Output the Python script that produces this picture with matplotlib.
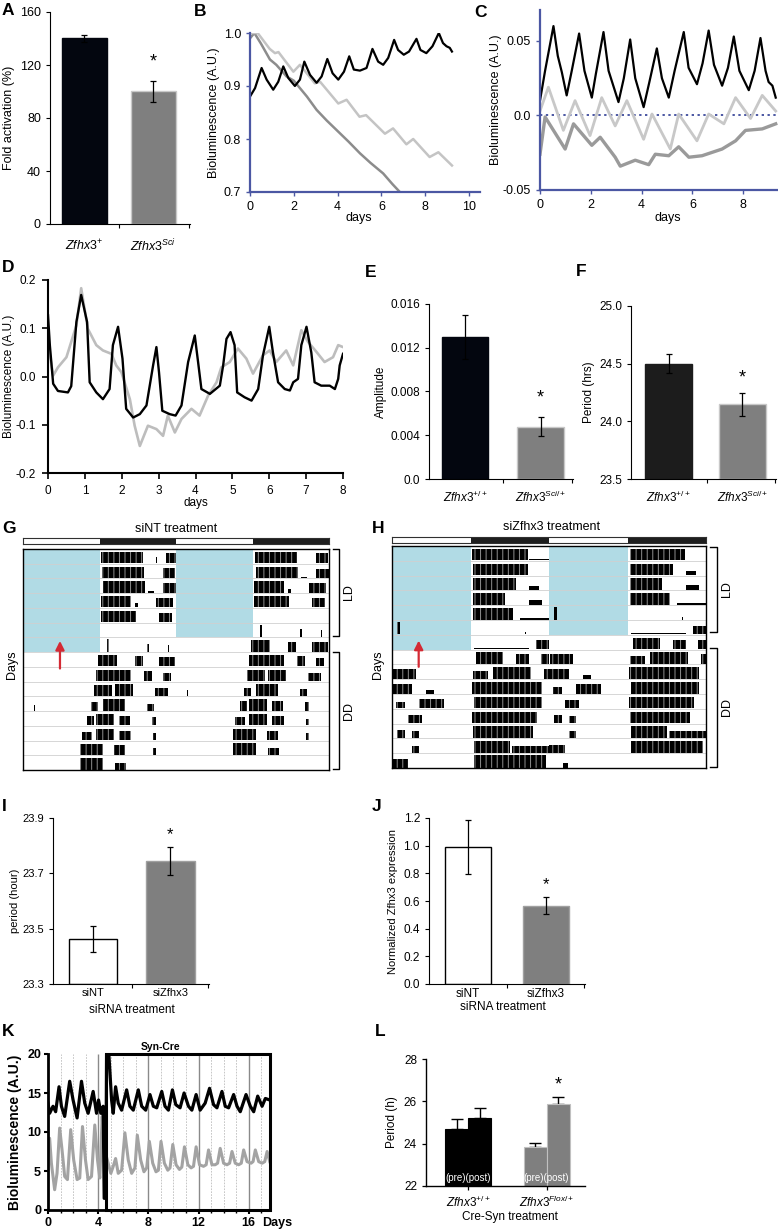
import matplotlib.pyplot as plt
import numpy as np

plt.rcParams['font.family'] = ['Liberation Sans', 'DejaVu Sans']
plt.rcParams['mathtext.fontset'] = 'custom'
plt.rcParams['mathtext.rm'] = 'Liberation Sans'
plt.rcParams['mathtext.it'] = 'Liberation Sans:italic'
plt.rcParams['mathtext.bf'] = 'Liberation Sans:bold'
plt.rcParams['font.size'] = 8.5
plt.rcParams['axes.linewidth'] = 0.8
plt.rcParams['hatch.linewidth'] = 0.7

# ---------------- data ----------------
# A
a_labels = [r'$\mathit{Zfhx3}^{+}$', r'$\mathit{Zfhx3}^{Sci}$']
a_vals = [140, 100]
a_err = [3, 8]

# B (days, bioluminescence)
b_x_black = [0.0, 0.23, 0.53, 0.76, 1.06, 1.29, 1.52, 1.75, 2.05, 2.28, 2.48, 2.74, 3.04, 3.27, 3.53,
             3.77, 4.03, 4.29, 4.53, 4.74, 5.02, 5.32, 5.59, 5.85, 6.08, 6.31, 6.58, 6.76, 7.02, 7.26,
             7.60, 7.78, 8.05, 8.33, 8.62, 8.81, 8.97, 9.12, 9.22]
b_black = [0.880, 0.896, 0.934, 0.912, 0.893, 0.908, 0.937, 0.915, 0.900, 0.912, 0.946, 0.921, 0.906,
           0.918, 0.951, 0.924, 0.912, 0.927, 0.956, 0.931, 0.929, 0.934, 0.970, 0.946, 0.940, 0.953,
           0.987, 0.968, 0.959, 0.965, 0.989, 0.968, 0.962, 0.975, 1.000, 0.981, 0.975, 0.972, 0.965]
b_x_light = [0, 0.35, 0.9, 1.14, 1.3, 1.98, 2.28, 2.96, 3.2, 4.03, 4.41, 5.0, 5.3, 6.16, 6.53, 7.14,
             7.45, 8.2, 8.6, 9.22]
b_light = [1.0, 1.0, 0.97, 0.962, 0.964, 0.927, 0.94, 0.905, 0.908, 0.867, 0.874, 0.842, 0.845, 0.81,
           0.82, 0.79, 0.80, 0.766, 0.775, 0.75]
b_x_dark = [0, 0.2, 0.5, 0.91, 1.2, 1.67, 2.0, 2.28, 2.6, 3.04, 3.5, 3.95, 4.5, 5.02, 5.5, 6.08, 6.5, 6.84]
b_dark = [0.99, 1.0, 0.98, 0.95, 0.94, 0.918, 0.91, 0.896, 0.88, 0.855, 0.835, 0.817, 0.795, 0.773,
          0.755, 0.735, 0.715, 0.70]

# C
c_x_black = [0, 0.2, 0.53, 0.7, 0.86, 1.05, 1.25, 1.54, 1.75, 2.04, 2.2, 2.5, 2.7, 3.09, 3.3, 3.55, 3.75,
             4.08, 4.3, 4.6, 4.8, 5.07, 5.3, 5.66, 5.85, 6.18, 6.4, 6.64, 6.85, 7.17, 7.4, 7.63, 7.85,
             8.22, 8.45, 8.68, 8.88, 9.0, 9.15, 9.28]
c_black = [0.010, 0.030, 0.060, 0.040, 0.029, 0.0135, 0.030, 0.055, 0.030, 0.012, 0.028, 0.056, 0.030,
           0.009, 0.025, 0.051, 0.025, 0.0056, 0.022, 0.045, 0.025, 0.012, 0.030, 0.056, 0.032, 0.021,
           0.035, 0.057, 0.034, 0.020, 0.032, 0.053, 0.030, 0.017, 0.030, 0.052, 0.030, 0.0225, 0.020,
           0.012]
c_x_light = [0, 0.33, 0.92, 1.38, 1.97, 2.43, 2.96, 3.42, 4.08, 4.41, 5.13, 5.46, 6.18, 6.64, 7.24, 7.7,
             8.29, 8.75, 9.28]
c_light = [0.003, 0.019, -0.010, 0.010, -0.0135, 0.012, -0.007, 0.010, -0.016, 0.001, -0.0225, 0.001,
           -0.017, 0.001, -0.0056, 0.012, -0.002, 0.0135, 0.003]
c_x_dark = [0, 0.2, 0.99, 1.32, 2.04, 2.37, 2.96, 3.16, 3.75, 4.28, 4.54, 5.07, 5.46, 5.86, 6.38, 7.17,
            7.7, 8.09, 8.75, 9.28]
c_dark = [-0.026, -0.001, -0.0225, -0.0056, -0.020, -0.0146, -0.028, -0.034, -0.030, -0.033, -0.026,
          -0.027, -0.021, -0.028, -0.027, -0.0225, -0.017, -0.010, -0.009, -0.0056]

# D
d_x_black = [0, 0.05, 0.14, 0.27, 0.54, 0.63, 0.77, 0.90, 1.06, 1.13, 1.31, 1.49, 1.67, 1.76, 1.90,
             2.02, 2.12, 2.31, 2.49, 2.67, 2.85, 2.94, 3.01, 3.10, 3.30, 3.46, 3.62, 3.80, 3.98, 4.07,
             4.16, 4.39, 4.66, 4.75, 4.84, 4.95, 5.06, 5.13, 5.33, 5.52, 5.70, 5.83, 6.00, 6.10, 6.24,
             6.42, 6.56, 6.65, 6.78, 6.87, 7.01, 7.14, 7.23, 7.41, 7.64, 7.78, 7.87, 7.91, 8.0]
d_black = [0.127, 0.065, -0.015, -0.030, -0.033, -0.020, 0.113, 0.169, 0.113, -0.012, -0.033, -0.047,
           -0.026, 0.065, 0.103, 0.037, -0.067, -0.085, -0.078, -0.060, 0.023, 0.061, 0.009, -0.071,
           -0.078, -0.081, -0.060, 0.030, 0.085, 0.030, -0.026, -0.036, -0.019, 0.023, 0.078, 0.092,
           0.065, -0.033, -0.043, -0.050, -0.026, 0.044, 0.103, 0.050, -0.012, -0.026, -0.029, -0.012,
           -0.005, 0.065, 0.103, 0.050, -0.012, -0.019, -0.019, -0.026, -0.005, 0.023, 0.047]
d_x_gray = [0, 0.14, 0.27, 0.5, 0.77, 0.9, 1.08, 1.31, 1.49, 1.72, 1.85, 1.99, 2.22, 2.35, 2.49, 2.71,
            2.94, 3.12, 3.25, 3.44, 3.62, 3.89, 4.11, 4.34, 4.57, 4.7, 4.93, 5.15, 5.38, 5.56, 5.83,
            6.01, 6.19, 6.46, 6.65, 6.87, 7.05, 7.28, 7.5, 7.73, 7.87, 8.0]
d_gray = [0.068, 0.002, 0.019, 0.040, 0.106, 0.183, 0.099, 0.065, 0.054, 0.047, 0.023, 0.009, -0.047,
          -0.102, -0.144, -0.102, -0.109, -0.123, -0.081, -0.116, -0.088, -0.067, -0.081, -0.040,
          -0.012, 0.019, 0.030, 0.058, 0.037, 0.006, 0.044, 0.054, 0.030, 0.054, 0.023, 0.096, 0.072,
          0.051, 0.030, 0.040, 0.065, 0.061]

# E, F
ef_labels = [r'$\mathit{Zfhx3}^{+/+}$', r'$\mathit{Zfhx3}^{Sci/+}$']
e_vals = [0.0130, 0.0048]
e_err = [0.0020, 0.0009]
f_vals = [24.50, 24.15]
f_err = [0.08, 0.10]

# G, H actograms: activity bouts per day (start h, end h, relative height)
g_days = [
    [(12.3, 18.8, .85), (20.8, 21.0, .5), (22.5, 24.0, .75)],
    [(12.4, 19.0, .85), (22.0, 23.8, .75)],
    [(12.6, 19.1, .85), (19.6, 20.5, .1), (22.0, 24.0, .7)],
    [(12.3, 17.0, .85), (17.5, 18.0, .3), (20.9, 23.5, .7)],
    [(12.3, 17.8, .85), (21.4, 23.3, .7)],
    [],
    [(13.2, 13.5, .9), (19.5, 19.7, .6), (22.7, 22.9, .5)],
    [(11.8, 14.7, .85), (17.6, 18.9, .75), (21.3, 23.9, .7)],
    [(11.5, 17.0, .85), (19.0, 20.2, .75), (22.0, 23.2, .6)],
    [(11.2, 14.0, .8), (14.4, 17.3, .85), (20.7, 22.8, .6)],
    [(1.7, 1.9, .4), (10.6, 11.7, .6), (12.5, 16.0, .85), (19.4, 20.6, .5)],
    [(10.0, 11.2, .7), (11.5, 14.3, .85), (15.0, 16.8, .7), (20.3, 20.8, .6)],
    [(9.3, 10.8, .6), (11.4, 14.3, .85), (15.0, 17.0, .7), (20.4, 20.8, .5)],
    [(8.9, 12.5, .8), (14.3, 16.0, .7), (20.4, 20.9, .5)],
    [(8.9, 12.5, .85), (14.5, 16.2, .5)],
    [],
]
h_days = [
    [(12.3, 20.8, .85), (21.0, 24.0, .08)],
    [(12.4, 20.8, .85)],
    [(12.4, 19.0, .85), (21.0, 22.5, .3)],
    [(12.4, 17.2, .85), (21.0, 22.9, .35)],
    [(12.4, 18.5, .85), (19.5, 24.0, .15)],
    [(0.8, 1.2, .9), (20.3, 20.5, .2)],
    [(12.5, 21.0, .08), (22.0, 24.0, .65)],
    [(12.9, 16.9, .85), (19.0, 21.0, .7), (22.8, 24.0, .7)],
    [(0.1, 3.6, .7), (12.4, 14.7, .6), (15.4, 21.3, .85), (23.3, 24.0, .7)],
    [(0.0, 3.0, .7), (5.2, 6.4, .25), (12.2, 22.9, .85)],
    [(0.6, 2.0, .5), (4.2, 8.0, .7), (12.5, 23.0, .85)],
    [(2.4, 4.6, .6), (12.2, 22.1, .85)],
    [(0.7, 2.0, .6), (3.1, 4.2, .5), (12.4, 21.5, .85)],
    [(3.1, 4.2, .5), (12.5, 18.0, .85), (18.4, 24.0, .5)],
    [(0.0, 2.4, .6), (12.6, 23.6, .9)],
    [(2.1, 2.9, .3)],
]
n_rows = 15
ld_dark = [(12, 12), (36, 12)]
blue_left_rows = 7
blue_right_rows = 6

# I, J
ij_labels = ['siNT', 'siZfhx3']
i_vals = [23.463, 23.745]
i_err = [0.047, 0.050]
j_vals = [0.99, 0.567]
j_err = [0.195, 0.063]

# K
k_x_black = [0, 0.13, 0.4, 0.61, 0.88, 1.07, 1.33, 1.73, 2.0, 2.32, 2.67, 2.93, 3.2, 3.6, 3.87, 4.03,
             4.21, 4.4, 4.48, 4.61, 4.67, 4.85, 5.07, 5.2, 5.39, 5.6, 5.87, 6.27, 6.53, 6.8, 7.2, 7.47,
             7.79, 8.13, 8.4, 8.67, 9.07, 9.33, 9.6, 9.92, 10.19, 10.53, 10.85, 11.2, 11.47, 11.81,
             12.13, 12.53, 12.88, 13.2, 13.47, 13.87, 14.13, 14.4, 14.8, 15.07, 15.33, 15.79, 16.13,
             16.4, 16.72, 17.07, 17.33, 17.68]
k_black = [13.7, 12.4, 13.3, 12.6, 15.8, 13.3, 12.0, 16.5, 14.1, 11.8, 16.5, 13.7, 12.4, 15.2, 12.4,
           14.1, 12.4, 13.3, 1.5, 1.5, 20, 20, 14.1, 12.4, 15.8, 13.7, 12.8, 15.4, 13.3, 12.8, 15.4,
           13.3, 12.8, 14.8, 13.3, 13.1, 15.2, 13.3, 12.8, 15.4, 13.5, 13.1, 15.0, 13.3, 12.8, 14.8,
           12.8, 13.7, 15.6, 13.5, 13.1, 15.2, 13.3, 13.1, 14.8, 13.3, 12.6, 14.8, 13.3, 12.6, 14.6,
           13.3, 14.3, 14.1]
k_x_gray = [0, 0.13, 0.27, 0.53, 0.72, 0.93, 1.12, 1.33, 1.55, 1.81, 2.05, 2.32, 2.53, 2.75, 2.99, 3.2,
            3.47, 3.73, 3.95, 4.13, 4.32, 4.45, 5.01, 5.2, 5.39, 5.6, 5.87, 6.13, 6.4, 6.67, 6.93, 7.12,
            7.39, 7.65, 7.87, 8.08, 8.35, 8.61, 8.8, 9.01, 9.28, 9.55, 9.73, 9.95, 10.21, 10.48, 10.67,
            10.88, 11.15, 11.41, 11.6, 11.81, 12.08, 12.4, 12.61, 12.8, 13.07, 13.33, 13.52, 13.73,
            14.0, 14.27, 14.48, 14.67, 14.93, 15.2, 15.41, 15.6, 15.87, 16.19, 16.35, 16.53, 16.8,
            17.07, 17.28, 17.47, 17.68]
k_gray = [9.0, 9.2, 6.0, 2.6, 4.7, 10.5, 7.7, 4.3, 3.9, 10.3, 6.4, 3.9, 4.1, 10.7, 6.4, 3.9, 4.3, 10.9,
          6.4, 4.1, 12.0, 8.1, 4.7, 5.6, 6.6, 4.7, 5.1, 9.9, 6.4, 4.7, 5.4, 9.6, 6.4, 4.9, 5.4, 8.8,
          6.0, 4.9, 5.1, 8.8, 6.0, 5.1, 5.4, 8.4, 5.8, 5.2, 5.5, 8.1, 5.8, 5.4, 5.6, 8.1, 5.8, 5.6, 5.8,
          7.7, 5.8, 5.8, 6.0, 7.9, 6.0, 5.8, 6.0, 7.5, 6.0, 5.8, 6.0, 7.7, 6.2, 6.0, 6.2, 7.7, 6.2,
          6.0, 6.2, 7.5, 6.2]
k_syn_start = 4.6
k_xmax = 17.7

# L
l_labels = [r'$\mathit{Zfhx3}^{+/+}$', r'$\mathit{Zfhx3}^{Flox/+}$']
l_pre = [24.67, 23.85]
l_post = [25.19, 25.87]
l_pre_err = [0.51, 0.17]
l_post_err = [0.51, 0.33]

# ---------------- helpers ----------------
W, H = 778, 1230
fig = plt.figure(figsize=(W / 100, H / 100), dpi=100)
BLUE = '#4b57a3'


def px_axes(l, t, r, b):
    ax = fig.add_axes([l / W, 1 - b / H, (r - l) / W, (b - t) / H])
    ax.set_facecolor('none')
    ax.px = (l, t, r, b)
    return ax


def ylab(ax, text, x_right, **kw):
    l, t, r, b = ax.px
    ax.set_ylabel(text, **kw)
    ax.yaxis.set_label_coords((x_right - l) / (r - l), 0.5)


def xlab(ax, text, x_center, y_top, **kw):
    l, t, r, b = ax.px
    ax.set_xlabel(text, **kw)
    ax.xaxis.set_label_coords((x_center - l) / (r - l), (b - y_top) / (b - t))


def clean(ax, lw=0.8, color='k'):
    for s in ['top', 'right']:
        ax.spines[s].set_visible(False)
    for s in ['left', 'bottom']:
        ax.spines[s].set_linewidth(lw)
        ax.spines[s].set_color(color)


def bar_panel(ax, vals, errs, colors, edges, ylim, yticks, ytl, xlim, width, seps, labels, pad, fs=8.5):
    x = np.arange(len(vals))
    ax.bar(x, np.array(vals) - ylim[0], bottom=ylim[0], width=width, color=colors,
           edgecolor=edges, linewidth=1, zorder=2)
    ax.errorbar(x, vals, yerr=errs, fmt='none', ecolor='k', elinewidth=0.9, capsize=2,
                capthick=0.9, zorder=3)
    ax.set_xlim(xlim)
    ax.set_ylim(ylim)
    ax.set_yticks(yticks)
    ax.set_yticklabels(ytl, fontsize=fs)
    ax.set_xticks(seps)
    ax.set_xticklabels([])
    ax.set_xticks(x, minor=True)
    ax.set_xticklabels(labels, minor=True, fontsize=fs)
    ax.tick_params(axis='x', which='minor', length=0, pad=pad)
    ax.tick_params(axis='both', which='major', length=3, width=0.8)
    clean(ax)
    return x


def actogram(ax, days, ld_ax):
    ax.set_xlim(0, 48)
    ax.set_ylim(n_rows, 0)
    ax.bar([0], [blue_left_rows], width=12, bottom=0, align='edge', color='#b1dbe5', zorder=1)
    ax.bar([24], [blue_right_rows], width=12, bottom=0, align='edge', color='#b1dbe5', zorder=1)
    ax.hlines(np.arange(1, n_rows), 0, 48, color='#d0d0d0', lw=0.6, zorder=1)
    for r in range(n_rows):
        for off, d in ((0, r), (24, r + 1)):
            if d >= len(days):
                continue
            for s, e, h in days[d]:
                # vertical hatch mimics the comb of individual activity counts
                ax.bar(off + s, -h * 0.92, width=e - s, bottom=r + 0.97, align='edge',
                       color='k', edgecolor='#8f8f8f', hatch='|||' if h >= 0.5 else None,
                       linewidth=0, zorder=2)
    ax.set_xticks([])
    ax.set_yticks([])
    for s in ax.spines.values():
        s.set_linewidth(1.0)
    ld_ax.set_xlim(0, 48)
    ld_ax.set_ylim(0, 1)
    ld_ax.broken_barh(ld_dark, (0, 1), facecolors='#1e1e1e')
    ld_ax.set_xticks([])
    ld_ax.set_yticks([])
    for s in ld_ax.spines.values():
        s.set_linewidth(0.8)
        s.set_color('#303030')


# ---------------- A ----------------
ax = px_axes(50, 12, 190, 224)
bar_panel(ax, a_vals, a_err, ['#03060f', '#7f7f7f'], ['#03060f', '#c8c8c8'], (0, 160),
          [0, 40, 80, 120, 160], ['0', '40', '80', '120', '160'], (-0.5, 1.53), 0.65,
          [0.5, 1.52], a_labels, 10, fs=9)
ax.text(1, 122, '*', ha='center', va='center', fontsize=13)
ylab(ax, 'Fold activation (%)', 15, fontsize=9)

# ---------------- B ----------------
ax = px_axes(250, 33, 480, 192)
ax.plot(b_x_dark, b_dark, color='#8c8c8c', lw=1.8)
ax.plot(b_x_light, b_light, color='#c4c4c4', lw=1.8)
ax.plot(b_x_black, b_black, color='k', lw=1.6)
ax.set_xlim(0, 10.5)
ax.set_ylim(0.7, 1.0)
ax.set_xticks([0, 2, 4, 6, 8, 10])
ax.set_yticks([0.7, 0.8, 0.9, 1.0])
ax.set_yticklabels(['0.7', '0.8', '0.9', '1.0'])
clean(ax, 1.6, BLUE)
ax.tick_params(colors=BLUE, labelcolor='k', labelsize=9, length=3, width=1)
ylab(ax, 'Bioluminescence (A.U.)', 220, fontsize=9)
xlab(ax, 'days', 359, 212, fontsize=9)

# ---------------- C ----------------
ax = px_axes(540, 10, 778, 190)
ax.axhline(0, color=BLUE, ls=(0, (1.2, 1.8)), lw=1.4, zorder=1)
ax.plot(c_x_dark, c_dark, color='#9a9a9a', lw=2.4)
ax.plot(c_x_light, c_light, color='#c8c8c8', lw=2.0)
ax.plot(c_x_black, c_black, color='k', lw=1.6)
ax.set_xlim(0, 9.37)
ax.set_ylim(-0.05, 0.0708)
ax.set_xticks([0, 2, 4, 6, 8])
ax.set_yticks([-0.05, 0.0, 0.05])
ax.set_yticklabels(['-0.05', '0.0', '0.05'])
clean(ax, 1.6, BLUE)
ax.tick_params(colors=BLUE, labelcolor='k', labelsize=9, length=3, width=1)
ylab(ax, 'Bioluminescence (A.U.)', 502, fontsize=9)
xlab(ax, 'days', 668, 212, fontsize=9)

# ---------------- D ----------------
ax = px_axes(48, 280, 343, 473)
ax.plot(d_x_gray, d_gray, color='#bdbdbd', lw=1.9)
ax.plot(d_x_black, d_black, color='k', lw=1.7)
ax.set_xlim(0, 8)
ax.set_ylim(-0.2, 0.2)
ax.set_xticks(range(9))
ax.set_yticks([-0.2, -0.1, 0.0, 0.1, 0.2])
ax.set_yticklabels(['-0.2', '-0.1', '0.0', '0.1', '0.2'])
clean(ax, 1.5)
ax.tick_params(labelsize=8.5, length=4, width=1.2, pad=5)
ylab(ax, 'Bioluminescence (A.U.)', 15, fontsize=8.5)
xlab(ax, 'days', 196, 497, fontsize=8.5)

# ---------------- E ----------------
ax = px_axes(429, 304, 573, 479)
bar_panel(ax, e_vals, e_err, ['#03060f', '#7f7f7f'], ['#03060f', '#c8c8c8'], (0, 0.016),
          [0, 0.004, 0.008, 0.012, 0.016], ['0.0', '0.004', '0.008', '0.012', '0.016'],
          (-0.477, 1.43), 0.61, [0.5, 1.42], ef_labels, 8, fs=8.5)
ax.text(1, 0.0074, '*', ha='center', va='center', fontsize=13)
ylab(ax, 'Amplitude', 387, fontsize=8.5)

# ---------------- F ----------------
ax = px_axes(631, 306, 776, 479)
bar_panel(ax, f_vals, f_err, ['#1c1c1c', '#7f7f7f'], ['#1c1c1c', '#c8c8c8'], (23.5, 25.0),
          [23.5, 24.0, 24.5, 25.0], ['23.5', '24.0', '24.5', '25.0'],
          (-0.51, 1.46), 0.64, [0.52, 1.45], ef_labels, 8, fs=8.5)
ax.text(1, 24.38, '*', ha='center', va='center', fontsize=13)
ylab(ax, 'Period (hrs)', 595, fontsize=8.5)

# ---------------- G ----------------
ld = px_axes(23, 538, 329, 544)
ax = px_axes(23, 549, 329, 770)
actogram(ax, g_days, ld)
ax.annotate('', xy=(5.8, 6.05), xytext=(5.8, 8.3),
            arrowprops=dict(arrowstyle='-|>', color='#d42a34', lw=1.6, mutation_scale=13),
            annotation_clip=False)

# ---------------- H ----------------
ld = px_axes(392, 537, 706, 543)
ax = px_axes(392, 546, 706, 768)
actogram(ax, h_days, ld)
ax.annotate('', xy=(4.08, 6.2), xytext=(4.08, 8.35),
            arrowprops=dict(arrowstyle='-|>', color='#d42a34', lw=1.6, mutation_scale=13),
            annotation_clip=False)

# ---------------- I ----------------
ax = px_axes(53, 818, 209, 984)
bar_panel(ax, i_vals, i_err, ['white', '#7f7f7f'], ['k', '#a0a0a0'], (23.3, 23.9),
          [23.3, 23.5, 23.7, 23.9], ['23.3', '23.5', '23.7', '23.9'],
          (-0.516, 1.497), 0.62, [0.5, 1.49], ij_labels, 3, fs=8)
ax.text(1, 23.84, '*', ha='center', va='center', fontsize=12)
ylab(ax, 'period (hour)', 20, fontsize=8)
xlab(ax, 'siRNA treatment', 132, 1004, fontsize=8.5)

# ---------------- J ----------------
ax = px_axes(429, 818, 585, 984)
bar_panel(ax, j_vals, j_err, ['white', '#7f7f7f'], ['k', '#a0a0a0'], (0, 1.2),
          [0, 0.2, 0.4, 0.6, 0.8, 1.0, 1.2], ['0.0', '0.2', '0.4', '0.6', '0.8', '1.0', '1.2'],
          (-0.5, 1.5), 0.59, [0.5, 1.49], ij_labels, 3, fs=8.5)
ax.text(1, 0.716, '*', ha='center', va='center', fontsize=12)
ylab(ax, 'Normalized Zfhx3 expression', 398, fontsize=8)
xlab(ax, 'siRNA treatment', 503, 1001, fontsize=8.5)

# ---------------- K ----------------
ax = px_axes(48, 1054, 270, 1210)
minor_days = [d for d in range(1, 18) if d % 4]
ax.vlines(minor_days, 0, 20, color='#bdbdbd', lw=0.6, linestyles=(0, (2, 1.5)), zorder=1)
ax.vlines([4, 8, 12, 16], 0, 20, color='#8a8a8a', lw=1.0, zorder=1)
ax.plot(k_x_gray, k_gray, color='#a3a3a3', lw=2.2, zorder=2)
ax.plot(k_x_black, k_black, color='k', lw=2.3, zorder=3)
ax.add_patch(plt.Rectangle((k_syn_start, 0), k_xmax - k_syn_start, 20, fill=False, lw=2.2,
                           edgecolor='k', clip_on=False, zorder=4))
ax.set_xlim(0, k_xmax)
ax.set_ylim(0, 20)
ax.set_xticks([0, 4, 8, 12, 16])
ax.set_xticks(range(0, 18), minor=True)
ax.set_yticks([0, 5, 10, 15, 20])
clean(ax, 2.0)
ax.tick_params(which='major', length=3, width=1.5, labelsize=9, pad=2)
ax.tick_params(which='minor', length=2, width=1)
for t in ax.get_xticklabels() + ax.get_yticklabels():
    t.set_fontweight('bold')
ax.annotate('Days', xy=(1, 0), xycoords='axes fraction', xytext=(5, -5), textcoords='offset points',
            ha='center', va='top', fontsize=9, fontweight='bold')
ax.text(9.0, 20.3, 'Syn-Cre', ha='center', va='bottom', fontsize=7.5, fontweight='bold')
ylab(ax, 'Bioluminescence (A.U.)', 22, fontsize=10, fontweight='bold')

# ---------------- L ----------------
ax = px_axes(426, 1059, 585, 1186)
xl = np.arange(len(l_pre))
w = 0.293
ax.bar(xl - w / 2, np.array(l_pre) - 22, bottom=22, width=w, color=['k', '#7f7f7f'],
       edgecolor=['k', '#c0c0c0'], linewidth=0.8, zorder=2)
ax.bar(xl + w / 2, np.array(l_post) - 22, bottom=22, width=w, color=['k', '#7f7f7f'],
       edgecolor=['k', '#c0c0c0'], linewidth=0.8, zorder=2)
ax.errorbar(xl - w / 2, l_pre, yerr=[[0, 0], l_pre_err], fmt='none', ecolor='k', elinewidth=1,
            capsize=4.5, capthick=1, zorder=1)
ax.errorbar(xl + w / 2, l_post, yerr=[[0, 0], l_post_err], fmt='none', ecolor='k', elinewidth=1,
            capsize=4.5, capthick=1, zorder=1)
for xi in xl:
    ax.text(xi, 22.12, '(pre)(post)', ha='center', va='bottom', color='white', fontsize=7)
ax.text(1 + w / 2, 26.75, '*', ha='center', va='center', fontsize=13)
ax.set_xlim(-0.535, 1.49)
ax.set_ylim(22, 28)
ax.set_yticks([22, 24, 26, 28])
ax.set_xticks(xl)
ax.set_xticklabels(l_labels)
clean(ax, 1.0)
ax.tick_params(labelsize=8.5, length=3, width=0.9)
ylab(ax, 'Period (h)', 398, fontsize=8.5)
xlab(ax, 'Cre-Syn treatment', 510, 1211, fontsize=8.5)

# ---------------- overlay: letters, brackets, labels ----------------
ov = fig.add_axes([0, 0, 1, 1])
ov.set_xlim(0, W)
ov.set_ylim(H, 0)
ov.axis('off')
ov.set_zorder(10)
ov.patch.set_alpha(0)

letters = [('A', 2, 3), ('B', 194, 4), ('C', 474, 5), ('D', 2, 260), ('E', 365, 265),
           ('F', 576, 264), ('G', 2, 521), ('H', 372, 521), ('I', 2, 799), ('J', 372, 799),
           ('K', 2, 1024), ('L', 375, 1024)]
for s, x, y in letters:
    ov.text(x, y, s, fontsize=12.5, fontweight='bold', ha='left', va='top')

ov.text(176, 529, 'siNT treatment', ha='center', va='center', fontsize=9)
ov.text(552, 527, 'siZfhx3 treatment', ha='center', va='center', fontsize=9)
ov.text(12, 665, 'Days', rotation=90, ha='center', va='center', fontsize=9)
ov.text(378, 665, 'Days', rotation=90, ha='center', va='center', fontsize=9)

for x0, x1, y0, y1, lab in [(333, 339, 549, 636, 'LD'), (333, 339, 652, 769, 'DD'),
                            (710, 717, 547, 632, 'LD'), (710, 717, 648, 767, 'DD')]:
    ov.plot([x0, x1, x1, x0], [y0, y0, y1, y1], color='k', lw=1)
    ov.text(x1 + 10, (y0 + y1) / 2, lab, rotation=90, ha='center', va='center', fontsize=9)

fig.savefig('out.png', dpi=100)
